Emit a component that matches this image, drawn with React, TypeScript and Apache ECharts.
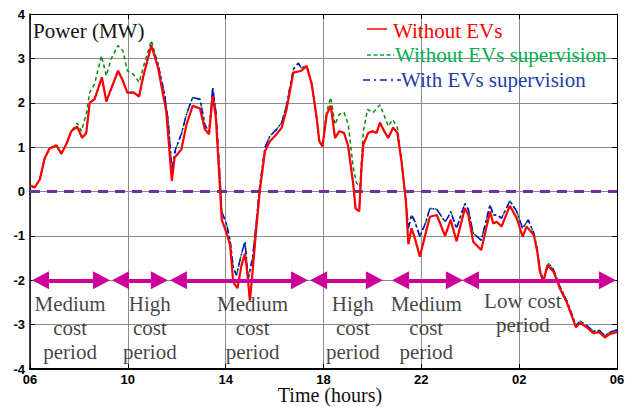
import React, { useEffect, useRef } from 'react';
import * as echarts from 'echarts';

const xTickLabels = ['06', '10', '14', '18', '22', '02', '06'];

const redHours = [
  0, 0.19, 0.4, 0.6, 0.8, 1.08, 1.28, 1.48, 1.69, 1.93, 2.13, 2.3, 2.44, 2.64, 2.94, 3.12, 3.6, 3.8, 3.98, 4.25,
  4.46, 4.62, 4.96, 5.23, 5.57, 5.8, 5.91, 6.19, 6.4, 6.65, 6.95, 7.15, 7.32, 7.47, 7.6, 7.77, 7.84, 8.04, 8.18, 8.31,
  8.48, 8.65, 8.79, 8.88, 8.99, 9.1, 9.24, 9.4, 9.61, 9.81, 10.08, 10.29, 10.49, 10.77, 11.1, 11.31, 11.52, 11.72, 11.83, 11.96,
  12.13, 12.3, 12.47, 12.65, 12.84, 13.01, 13.22, 13.31, 13.46, 13.56, 13.63, 13.83, 14.0, 14.17, 14.31, 14.48, 14.65, 14.85, 15.02, 15.19,
  15.37, 15.47, 15.6, 15.74, 15.94, 16.19, 16.35, 16.63, 16.97, 17.2, 17.44, 17.78, 17.92, 18.12, 18.45, 18.81, 18.94, 19.08, 19.28, 19.62,
  19.9, 20.14, 20.3, 20.6, 20.74, 20.85, 20.99, 21.15, 21.4, 21.67, 21.94, 22.15, 22.32, 22.49, 22.76, 23.03, 23.27, 23.51, 23.71, 24,
];
const redValues = [
  0.14, 0.09, 0.27, 0.75, 0.97, 1.04, 0.85, 1.06, 1.36, 1.46, 1.21, 1.32, 2.0, 2.08, 2.57, 2.03, 2.72, 2.49, 2.23, 2.23,
  2.14, 2.57, 3.29, 2.8, 1.81, 0.24, 0.76, 0.95, 1.51, 1.93, 1.87, 1.4, 1.29, 2.15, 1.66, 0.04, -0.64, -0.94, -1.21, -2.04,
  -2.18, -1.66, -1.4, -1.81, -2.46, -1.81, -0.91, 0.04, 0.91, 1.13, 1.29, 1.44, 1.85, 2.68, 2.72, 2.83, 2.42, 1.66, 1.13, 1.02,
  1.74, 1.93, 1.21, 1.36, 1.32, 1.02, 0.15, -0.38, -0.45, 0.6, 1.06, 1.32, 1.36, 1.32, 1.55, 1.36, 1.21, 1.44, 1.32, 0.68,
  -0.23, -1.19, -0.83, -1.06, -1.47, -0.91, -0.57, -0.53, -1.0, -0.64, -1.12, -0.38, -0.53, -1.13, -1.32, -0.45, -0.72, -0.68, -0.79, -0.32,
  -0.6, -1.02, -0.79, -0.98, -1.36, -1.81, -2.04, -1.66, -1.8, -2.19, -2.49, -2.8, -3.06, -2.96, -3.06, -3.19, -3.17, -3.29, -3.21, -3.17,
];

const blueHours = [
  0, 0.19, 0.4, 0.6, 0.8, 1.08, 1.28, 1.48, 1.69, 1.93, 2.13, 2.3, 2.44, 2.64, 2.94, 3.12, 3.6, 3.8, 3.98, 4.25,
  4.46, 4.62, 4.96, 5.23, 5.5, 5.65, 5.8, 5.95, 6.19, 6.4, 6.65, 6.95, 7.15, 7.32, 7.47, 7.6, 7.77, 7.84, 8.04, 8.18,
  8.31, 8.44, 8.65, 8.79, 8.92, 9.1, 9.24, 9.4, 9.61, 9.81, 10.08, 10.29, 10.49, 10.77, 10.97, 11.1, 11.31, 11.52, 11.72, 11.83,
  11.96, 12.13, 12.3, 12.47, 12.65, 12.84, 13.01, 13.22, 13.31, 13.46, 13.56, 13.63, 13.83, 14.0, 14.17, 14.31, 14.48, 14.65, 14.85, 15.02,
  15.19, 15.37, 15.47, 15.6, 15.74, 15.94, 16.19, 16.35, 16.63, 16.97, 17.1, 17.2, 17.44, 17.78, 17.92, 18.12, 18.45, 18.81, 18.94, 19.08,
  19.28, 19.62, 19.9, 20.14, 20.37, 20.6, 20.74, 20.85, 20.99, 21.2, 21.4, 21.67, 21.94, 22.15, 22.32, 22.49, 22.76, 23.03, 23.27, 23.51,
  23.71, 24,
];
const blueValues = [
  0.14, 0.09, 0.27, 0.75, 0.97, 1.04, 0.85, 1.06, 1.36, 1.46, 1.21, 1.32, 2.0, 2.08, 2.57, 2.03, 2.72, 2.49, 2.23, 2.23,
  2.14, 2.57, 3.3, 2.88, 2.2, 1.6, 0.49, 0.95, 1.3, 1.74, 2.12, 2.08, 1.5, 1.35, 2.34, 1.8, 0.3, -0.45, -0.75, -1.1,
  -1.7, -1.89, -1.4, -1.13, -1.97, -1.5, -0.75, 0.15, 1.0, 1.25, 1.4, 1.55, 1.95, 2.76, 2.89, 2.78, 2.83, 2.42, 1.66, 1.13,
  1.02, 1.74, 1.93, 1.21, 1.36, 1.32, 1.02, 0.15, -0.38, -0.45, 0.6, 1.06, 1.32, 1.36, 1.32, 1.55, 1.36, 1.21, 1.44, 1.32,
  0.68, -0.23, -0.83, -0.53, -0.68, -1.02, -0.68, -0.38, -0.4, -0.68, -0.57, -0.45, -0.83, -0.27, -0.4, -0.94, -1.1, -0.3, -0.53, -0.53,
  -0.6, -0.21, -0.45, -0.83, -0.64, -0.94, -1.3, -1.75, -2.0, -1.62, -1.76, -2.15, -2.45, -2.76, -3.02, -2.92, -3.02, -3.15, -3.13, -3.25,
  -3.17, -3.12,
];

const greenHours = [
  0, 0.19, 0.4, 0.6, 0.8, 1.08, 1.28, 1.48, 1.69, 1.93, 2.1, 2.3, 2.44, 2.64, 2.92, 3.12, 3.32, 3.6, 3.8, 3.98,
  4.21, 4.46, 4.69, 4.96, 5.23, 5.5, 5.65, 5.8, 5.95, 6.19, 6.4, 6.65, 6.95, 7.15, 7.32, 7.47, 7.6, 7.77, 7.84, 8.04,
  8.18, 8.31, 8.44, 8.65, 8.79, 8.92, 9.1, 9.24, 9.4, 9.61, 9.81, 10.08, 10.29, 10.49, 10.77, 10.97, 11.1, 11.31, 11.52, 11.72,
  11.83, 11.96, 12.13, 12.3, 12.47, 12.65, 12.84, 13.01, 13.22, 13.35, 13.49, 13.63, 13.8, 14.03, 14.14, 14.31, 14.52, 14.65, 14.83, 15.02,
  15.19, 15.37, 15.47, 15.6, 15.74, 15.94, 16.19, 16.35, 16.63, 16.97, 17.1, 17.2, 17.44, 17.78, 17.92, 18.12, 18.45, 18.81, 18.94, 19.08,
  19.28, 19.62, 19.9, 20.14, 20.37, 20.6, 20.74, 20.85, 20.99, 21.2, 21.4, 21.67, 21.94, 22.15, 22.32, 22.49, 22.76, 23.03, 23.27, 23.51,
  23.71, 24,
];
const greenValues = [
  0.14, 0.09, 0.27, 0.75, 0.97, 1.04, 0.85, 1.06, 1.36, 1.54, 1.36, 1.74, 2.23, 2.42, 3.06, 2.61, 2.99, 3.29, 3.17, 2.72,
  2.65, 2.46, 2.91, 3.4, 2.88, 2.2, 1.6, 0.49, 0.95, 1.3, 1.74, 2.12, 2.08, 1.5, 1.35, 2.34, 1.8, 0.3, -0.45, -0.75,
  -1.1, -1.7, -1.89, -1.4, -1.13, -1.97, -1.5, -0.75, 0.15, 1.0, 1.25, 1.4, 1.55, 1.95, 2.76, 2.89, 2.78, 2.83, 2.42, 1.66,
  1.13, 1.02, 1.8, 2.12, 1.51, 1.74, 1.78, 1.51, 0.53, 0.19, 0.11, 1.36, 1.85, 1.78, 1.85, 1.95, 1.66, 1.47, 1.62, 1.44,
  0.7, -0.23, -0.83, -0.53, -0.68, -1.02, -0.68, -0.38, -0.4, -0.68, -0.57, -0.45, -0.83, -0.27, -0.4, -0.94, -1.1, -0.3, -0.53, -0.53,
  -0.6, -0.21, -0.45, -0.83, -0.64, -0.94, -1.3, -1.75, -2.0, -1.62, -1.76, -2.15, -2.45, -2.76, -3.02, -2.92, -3.02, -3.15, -3.13, -3.25,
  -3.17, -3.12,
];

const zeroHours = [0, 24];
const zeroValues = [0, 0];

const periodStarts = [0.43, 3.7, 6.07, 11.8, 15.15, 18.01];
const periodEnds = [2.92, 5.29, 11.02, 14.08, 17.35, 23.61];
const periodLevel = -2;
const periodLabels = [
  'Medium\ncost\nperiod',
  'High\ncost\nperiod',
  'Medium\ncost\nperiod',
  'High\ncost\nperiod',
  'Medium\ncost\nperiod',
  'Low cost\nperiod',
];
const periodLabelHours = [1.64, 4.9, 9.1, 13.2, 16.2, 20.15];
const periodLabelValues = [-3.08, -3.08, -3.08, -3.08, -3.08, -2.73];

const legendNames = ['Without EVs', 'Without EVs supervision', 'With EVs supervision'];

const zip = (a: number[], b: number[]) => a.map((x, i) => [x, b[i]]);

const SERIF = "'Liberation Serif', 'Times New Roman', serif";
const SANS = "'Liberation Sans Narrow', 'Arial Narrow', 'Liberation Sans', Arial, sans-serif";

const RED = '#ff0000';
const GREEN = '#0a8a0a';
const BLUE = '#0000ee';

export default function App() {
  const ref = useRef<HTMLDivElement>(null);
  useEffect(() => {
    if (!ref.current) return;
    const chart = echarts.init(ref.current, null, { renderer: 'svg' });
    const axisCommonX = { type: 'value' as const, min: 0, max: 24, interval: 4 };
    const axisCommonY = { type: 'value' as const, min: -4, max: 4, interval: 1 };
    const legendText = (text: string, x: number, y: number, color: string) => ({
      type: 'text',
      x,
      y,
      z: 100,
      style: { text, fill: color, fontFamily: SERIF, fontSize: 21, verticalAlign: 'middle', align: 'left' },
    });
    chart.setOption({
      animation: false,
      backgroundColor: '#ffffff',
      title: {
        text: 'Power (MW)',
        left: 33,
        top: 20,
        padding: 0,
        textStyle: { fontFamily: SERIF, fontSize: 21, fontWeight: 'normal', color: '#111' },
      },
      graphic: [
        { type: 'line', z: 100, shape: { x1: 367, y1: 29, x2: 387, y2: 29 }, style: { stroke: RED, lineWidth: 1.5 } },
        legendText(legendNames[0], 393, 31, '#ff0000'),
        {
          type: 'line', z: 100, shape: { x1: 367, y1: 55, x2: 394, y2: 55 },
          style: { stroke: '#00a040', lineWidth: 1.5, lineDash: [4, 2.5] },
        },
        legendText(legendNames[1], 395, 55, '#00b050'),
        {
          type: 'line', z: 100, shape: { x1: 363, y1: 80, x2: 401, y2: 80 },
          style: { stroke: '#1020c0', lineWidth: 1.5, lineDash: [7, 4, 2, 4] },
        },
        legendText(legendNames[2], 401, 80, '#1c3fa8'),
      ],
      grid: { left: 30, right: 13, top: 14, bottom: 38, containLabel: false, outerBoundsMode: 'none' },
      xAxis: [
        {
          ...axisCommonX,
          position: 'bottom',
          name: 'Time (hours)',
          nameLocation: 'middle',
          nameGap: 16,
          nameMoveOverlap: false,
          nameTextStyle: { fontFamily: SERIF, fontSize: 20, lineHeight: 20, color: '#111', padding: [0, 0, 0, 13] },
          axisLine: { show: true, onZero: false, lineStyle: { color: '#000', width: 2 } },
          axisTick: { show: true, inside: true, length: 5, lineStyle: { color: '#000' } },
          axisLabel: {
            formatter: (v: number) => xTickLabels[Math.round(v / 4)],
            fontFamily: SANS,
            fontWeight: 'bold',
            fontSize: 13,
            lineHeight: 12,
            color: '#000',
            margin: 4,
            showMinLabel: true,
            showMaxLabel: true,
          },
          splitLine: { show: true, lineStyle: { color: '#8c8c8c', width: 1 } },
        },
        {
          ...axisCommonX,
          position: 'top',
          axisLine: { show: true, onZero: false, lineStyle: { color: '#000', width: 1 } },
          axisTick: { show: true, inside: true, length: 5, lineStyle: { color: '#000' } },
          axisLabel: { show: false },
          splitLine: { show: false },
        },
      ],
      yAxis: [
        {
          ...axisCommonY,
          position: 'left',
          axisLine: { show: true, onZero: false, lineStyle: { color: '#000', width: 1.5 } },
          axisTick: { show: true, inside: true, length: 5, lineStyle: { color: '#000' } },
          axisLabel: {
            fontFamily: SANS,
            fontWeight: 'bold',
            fontSize: 13,
            color: '#000',
            margin: 5,
            showMinLabel: true,
            showMaxLabel: true,
          },
          splitLine: { show: true, lineStyle: { color: '#8c8c8c', width: 1 } },
        },
        {
          ...axisCommonY,
          position: 'right',
          axisLine: { show: true, onZero: false, lineStyle: { color: '#000', width: 1 } },
          axisTick: { show: true, inside: true, length: 5, lineStyle: { color: '#000' } },
          axisLabel: { show: false },
          splitLine: { show: false },
        },
      ],
      series: [
        {
          name: 'zero',
          type: 'line',
          data: zip(zeroHours, zeroValues),
          symbol: 'none',
          silent: true,
          z: 1,
          lineStyle: { color: '#7030a0', width: 3, type: [10, 7] },
        },
        {
          name: legendNames[1],
          type: 'line',
          data: zip(greenHours, greenValues),
          symbol: 'none',
          z: 2,
          itemStyle: { color: GREEN },
          lineStyle: { color: GREEN, width: 1.5, type: [4, 3] },
        },
        {
          name: legendNames[2],
          type: 'line',
          data: zip(blueHours, blueValues),
          symbol: 'none',
          z: 3,
          itemStyle: { color: BLUE },
          lineStyle: { color: BLUE, width: 1.5, type: [7, 3, 2, 3] },
        },
        {
          name: legendNames[0],
          type: 'line',
          data: zip(redHours, redValues),
          symbol: 'none',
          z: 4,
          itemStyle: { color: RED },
          lineStyle: { color: RED, width: 2.2 },
        },
        {
          name: 'periods',
          type: 'line',
          data: [],
          symbol: 'none',
          z: 5,
          markLine: {
            silent: true,
            symbol: ['triangle', 'triangle'],
            symbolSize: [18, 17],
            label: { show: false },
            lineStyle: { color: '#cc0099', width: 4, type: 'solid' },
            emphasis: { disabled: true },
            data: periodStarts.map((s, i) => [
              { coord: [s, periodLevel] },
              { coord: [periodEnds[i], periodLevel] },
            ]),
          },
        },
        {
          name: 'periodLabels',
          type: 'scatter',
          data: zip(periodLabelHours, periodLabelValues),
          symbolSize: 0,
          silent: true,
          z: 6,
          label: {
            show: true,
            position: 'inside',
            formatter: (p: any) => periodLabels[p.dataIndex],
            fontFamily: SERIF,
            fontSize: 21,
            lineHeight: 24,
            color: '#111',
            align: 'center',
            verticalAlign: 'middle',
          },
        },
      ],
    });
    return () => chart.dispose();
  }, []);
  return (
    <div
      ref={ref}
      style={{ position: 'fixed', left: 0, top: 0, width: 630, height: 407, background: '#fff' }}
    />
  );
}
